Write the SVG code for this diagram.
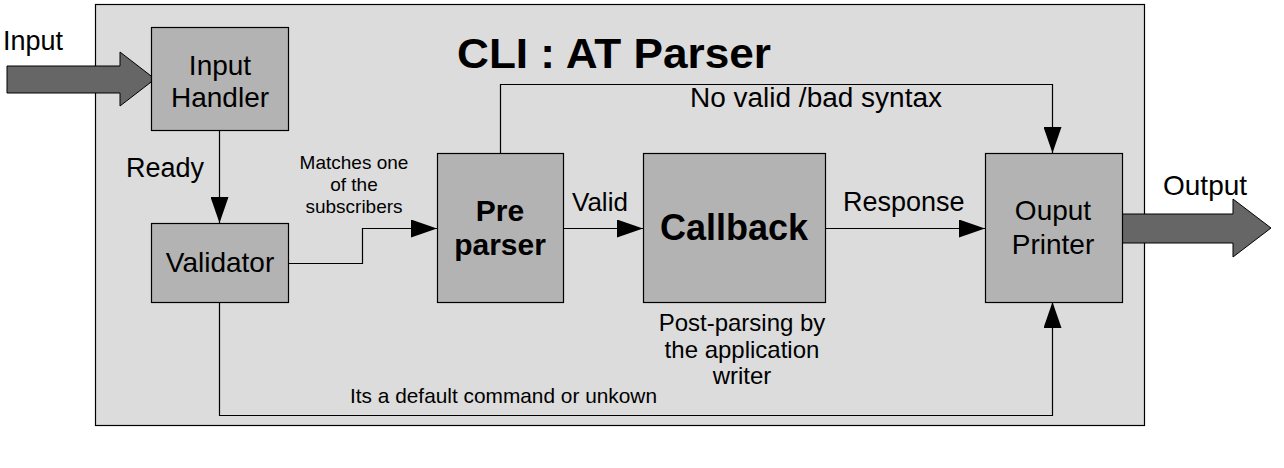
<svg xmlns="http://www.w3.org/2000/svg" width="1284" height="468" viewBox="0 0 1284 468">
<defs>
<marker id="ah" markerWidth="26" markerHeight="18" refX="26" refY="9" orient="auto" markerUnits="userSpaceOnUse">
<path d="M0,0 L26,9 L0,18 Z" fill="#000"/>
</marker>
<style>
text{font-family:"Liberation Sans",Arial,sans-serif;fill:#000}
.node{fill:#b3b3b3;stroke:#000;stroke-width:1.2}
.conn{fill:none;stroke:#000;stroke-width:1.2;marker-end:url(#ah)}
.big{fill:#666;stroke:#000;stroke-width:1}
.t28{font-size:28px}
.t26{font-size:26px}
.mid{text-anchor:middle}
</style>
</defs>
<rect width="1284" height="468" fill="#fff"/>
<rect id="frame" x="95.5" y="4.5" width="1049" height="421" fill="#dcdcdc" stroke="#000" stroke-width="1.2"/>
<text x="614" y="68" class="mid" font-size="43" font-weight="bold" textLength="314" lengthAdjust="spacingAndGlyphs">CLI : AT Parser</text>

<g id="input-arrow">
<path class="big" d="M7,66 L120,66 L120,52 L155,79 L120,106 L120,93 L7,93 Z"/>
<text x="3" y="50" font-size="27">Input</text>
</g>
<g id="output-arrow">
<path class="big" d="M1122,214 L1233,214 L1233,199 L1271,228 L1233,257 L1233,243 L1122,243 Z"/>
<text x="1163" y="195" font-size="28">Output</text>
</g>

<g id="connectors">
<path class="conn" d="M219.5,130 L219.5,223"/>
<path class="conn" d="M288,263.5 L362.5,263.5 L362.5,228.5 L437,228.5"/>
<path class="conn" d="M563,228.5 L643,228.5"/>
<path class="conn" d="M825,228.5 L985,228.5"/>
<path class="conn" d="M500.5,153 L500.5,84.5 L1052.5,84.5 L1052.5,153"/>
<path class="conn" d="M219.5,302 L219.5,415.5 L1052.5,415.5 L1052.5,302"/>
<text x="126" y="177" font-size="27">Ready</text>
<text x="354" y="169" class="mid" font-size="19">Matches one</text>
<text x="354" y="191" class="mid" font-size="19">of the</text>
<text x="354" y="213" class="mid" font-size="19">subscribers</text>
<text x="572" y="211" class="t26">Valid</text>
<text x="843" y="211" font-size="27">Response</text>
<text x="690" y="107" font-size="27" textLength="252" lengthAdjust="spacingAndGlyphs">No valid /bad syntax</text>
<text x="350" y="403" font-size="21" textLength="307" lengthAdjust="spacingAndGlyphs">Its a default command or unkown</text>
</g>

<g id="input-handler">
<rect class="node" x="151.5" y="27.5" width="137" height="103"/>
<text x="220" y="75" class="t28 mid">Input</text>
<text x="220" y="107" class="t28 mid">Handler</text>
</g>
<g id="validator">
<rect class="node" x="151.5" y="223.5" width="137" height="79"/>
<text x="220" y="272" class="t28 mid">Validator</text>
</g>
<g id="pre-parser">
<rect class="node" x="437.5" y="153.5" width="126" height="149"/>
<text x="500" y="221" class="mid" font-size="30" font-weight="bold">Pre</text>
<text x="500" y="255" class="mid" font-size="30" font-weight="bold">parser</text>
</g>
<g id="callback">
<rect class="node" x="643.5" y="153.5" width="182" height="149"/>
<text x="734" y="240" class="mid" font-size="36" font-weight="bold">Callback</text>
<text x="742" y="331" class="mid" font-size="24">Post-parsing by</text>
<text x="742" y="358" class="mid" font-size="24">the application</text>
<text x="742" y="384" class="mid" font-size="24">writer</text>
</g>
<g id="output-printer">
<rect class="node" x="985.5" y="153.5" width="137" height="149"/>
<text x="1053" y="220" class="t28 mid">Ouput</text>
<text x="1053" y="254" class="t28 mid">Printer</text>
</g>
</svg>
